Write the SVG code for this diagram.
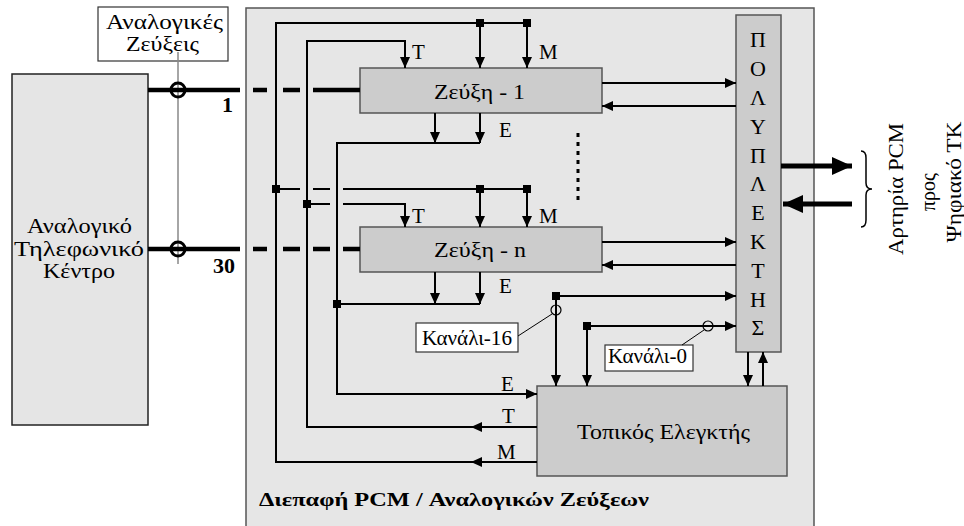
<svg xmlns="http://www.w3.org/2000/svg" width="964" height="526" viewBox="0 0 964 526" font-family="'Liberation Serif', 'Times New Roman', 'DejaVu Serif', serif">
<defs>
<style>
text{font-family:'Liberation Serif','Times New Roman','DejaVu Serif',serif;fill:#000}
.ln{fill:none;stroke:#000;stroke-width:2}
.thk{fill:none;stroke:#000;stroke-width:4.5}
.box{fill:#cccccc;stroke:#555;stroke-width:1.5}
.lbl{fill:#fff;stroke:#333;stroke-width:1.2}
.sq{fill:#000}
</style>
<marker id="ah" markerUnits="userSpaceOnUse" markerWidth="12" markerHeight="10" refX="11" refY="5" orient="auto"><path d="M0,0 L11,5 L0,10 z" fill="#000"/></marker>
<marker id="ahT" markerUnits="userSpaceOnUse" markerWidth="21" markerHeight="18" refX="20" refY="9" orient="auto"><path d="M0,0 L20,9 L0,18 z" fill="#000"/></marker>
</defs>
<rect width="964" height="526" fill="#fff"/>

<g id="pcm-interface">
<rect x="246" y="8" width="568" height="522" fill="#e6e6e6" stroke="#555" stroke-width="1.5"/>
<text x="259" y="506" font-size="18" font-weight="bold" textLength="390" lengthAdjust="spacingAndGlyphs">Διεπαφή PCM / Αναλογικών Ζεύξεων</text>
</g>

<g id="analog-exchange">
<rect x="12" y="74" width="136" height="351" fill="#e5e5e5" stroke="#222" stroke-width="1.5"/>
<text x="27" y="233" font-size="20" textLength="105" lengthAdjust="spacingAndGlyphs">Αναλογικό</text>
<text x="14" y="256" font-size="20" textLength="130" lengthAdjust="spacingAndGlyphs">Τηλεφωνικό</text>
<text x="43" y="278" font-size="20" textLength="72" lengthAdjust="spacingAndGlyphs">Κέντρο</text>
</g>

<g id="analog-pairs-label">
<rect x="98" y="7" width="130" height="54" class="lbl"/>
<text x="106" y="29" font-size="20" textLength="117" lengthAdjust="spacingAndGlyphs">Αναλογικές</text>
<text x="126" y="51" font-size="20" textLength="73" lengthAdjust="spacingAndGlyphs">Ζεύξεις</text>
</g>

<g id="pair-1">
<rect x="360" y="68" width="242" height="45" class="box"/>
<text x="434" y="99" font-size="20" textLength="91" lengthAdjust="spacingAndGlyphs">Ζεύξη - 1</text>
</g>

<g id="pair-n">
<rect x="360" y="227" width="242" height="45" class="box"/>
<text x="434" y="257" font-size="20" textLength="92" lengthAdjust="spacingAndGlyphs">Ζεύξη - n</text>
</g>

<g id="multiplexer">
<rect x="736" y="15" width="45" height="337" class="box"/>
<g font-size="22" text-anchor="middle">
<text x="758" y="47">Π</text>
<text x="758" y="76">Ο</text>
<text x="758" y="105">Λ</text>
<text x="758" y="134">Υ</text>
<text x="758" y="163">Π</text>
<text x="758" y="191">Λ</text>
<text x="758" y="220">Ε</text>
<text x="758" y="249">Κ</text>
<text x="758" y="278">Τ</text>
<text x="758" y="307">Η</text>
<text x="758" y="335">Σ</text>
</g>
</g>

<g id="controller">
<rect x="537" y="386" width="250" height="90" class="box"/>
<text x="577" y="439" font-size="22" textLength="173" lengthAdjust="spacingAndGlyphs">Τοπικός Ελεγκτής</text>
</g>

<g id="channel-16">
<rect x="416" y="323" width="102" height="29" class="lbl"/>
<text x="422" y="345" font-size="20" textLength="90" lengthAdjust="spacingAndGlyphs">Κανάλι-16</text>
</g>

<g id="channel-0">
<rect x="605" y="345" width="88" height="26" class="lbl"/>
<text x="608" y="363" font-size="20" textLength="79" lengthAdjust="spacingAndGlyphs">Κανάλι-0</text>
</g>

<g id="pcm-trunk-label">
<text font-size="20" text-anchor="middle" transform="translate(903,189) rotate(-90)" textLength="132" lengthAdjust="spacingAndGlyphs">Αρτηρία PCM</text>
<text font-size="20" text-anchor="middle" transform="translate(935,192) rotate(-90)">προς</text>
<text font-size="20" text-anchor="middle" transform="translate(961,182) rotate(-90)" textLength="121" lengthAdjust="spacingAndGlyphs">Ψηφιακό ΤΚ</text>
</g>

<g id="connectors">
<line x1="178" y1="52" x2="178" y2="264" stroke="#888" stroke-width="1.5"/>
<path class="thk" d="M148,90 H240 M253,90 H267 M283,90 H300 M313,90 H360"/>
<path class="thk" d="M148,249 H240 M253,249 H267 M283,249 H300 M313,249 H330 M343,249 H360"/>
<circle cx="178" cy="90" r="7" fill="none" stroke="#000" stroke-width="3"/>
<circle cx="178" cy="249" r="7" fill="none" stroke="#000" stroke-width="3"/>

<path class="ln" d="M537,462 H471" marker-end="url(#ah)"/>
<path class="ln" d="M471,462 H276 V23 H527"/>
<path class="ln" d="M480,23 V68" marker-end="url(#ah)"/>
<path class="ln" d="M527,23 V68" marker-end="url(#ah)"/>
<path class="ln" d="M276,189 H300 M313,189 H330 M343,189 H527"/>
<path class="ln" d="M480,189 V227" marker-end="url(#ah)"/>
<path class="ln" d="M527,189 V227" marker-end="url(#ah)"/>

<path class="ln" d="M537,427 H471" marker-end="url(#ah)"/>
<path class="ln" d="M471,427 H307 V41 H405 V68" marker-end="url(#ah)"/>
<path class="ln" d="M307,204 H330 M343,204 H405 V227" marker-end="url(#ah)"/>

<path class="ln" d="M435,113 V143" marker-end="url(#ah)"/>
<path class="ln" d="M480,113 V143" marker-end="url(#ah)"/>
<path class="ln" d="M480,143 H337 V394 H537" marker-end="url(#ah)"/>
<path class="ln" d="M435,272 V304" marker-end="url(#ah)"/>
<path class="ln" d="M480,272 V304" marker-end="url(#ah)"/>
<path class="ln" d="M480,304 H337"/>

<path class="ln" d="M602,83 H736" marker-end="url(#ah)"/>
<path class="ln" d="M736,106 H602" marker-end="url(#ah)"/>
<path class="ln" d="M602,242 H736" marker-end="url(#ah)"/>
<path class="ln" d="M736,265 H602" marker-end="url(#ah)"/>
<path d="M578,133 V203" fill="none" stroke="#000" stroke-width="3" stroke-dasharray="4 5"/>

<path class="ln" d="M556,296 H736" marker-end="url(#ah)"/>
<path class="ln" d="M556,296 V386" marker-end="url(#ah)"/>
<path class="ln" d="M587,326 H736" marker-end="url(#ah)"/>
<path class="ln" d="M587,326 V386" marker-end="url(#ah)"/>
<circle cx="556" cy="310" r="5" fill="none" stroke="#000" stroke-width="1.2"/>
<circle cx="708" cy="326" r="5" fill="none" stroke="#000" stroke-width="1.2"/>
<line x1="518" y1="336" x2="552" y2="314" stroke="#000" stroke-width="1"/>
<line x1="682" y1="345" x2="704" y2="330" stroke="#000" stroke-width="1"/>

<path class="ln" d="M748,352 V386" marker-end="url(#ah)"/>
<path class="ln" d="M763,386 V352" marker-end="url(#ah)"/>

<path d="M781,166 H852" fill="none" stroke="#000" stroke-width="5" marker-end="url(#ahT)"/>
<path d="M852,204 H783" fill="none" stroke="#000" stroke-width="5" marker-end="url(#ahT)"/>
<path d="M861,151 Q866,151 866,158 L866,183 Q866,189 872,189 Q866,189 866,195 L866,220 Q866,227 861,227" fill="none" stroke="#000" stroke-width="1.5"/>

<rect class="sq" x="476" y="19" width="8" height="8"/>
<rect class="sq" x="523" y="19" width="8" height="8"/>
<rect class="sq" x="272" y="185" width="8" height="8"/>
<rect class="sq" x="476" y="185" width="8" height="8"/>
<rect class="sq" x="523" y="185" width="8" height="8"/>
<rect class="sq" x="303" y="200" width="8" height="8"/>
<rect class="sq" x="333" y="300" width="8" height="8"/>
<rect class="sq" x="552" y="292" width="8" height="8"/>
<rect class="sq" x="583" y="322" width="8" height="8"/>
</g>

<g id="signal-labels" font-size="21">
<text x="222" y="112" font-size="22" font-weight="bold">1</text>
<text x="213" y="273" font-size="22" font-weight="bold">30</text>
<text x="412" y="59">T</text>
<text x="539" y="59">M</text>
<text x="499" y="137">E</text>
<text x="412" y="223">T</text>
<text x="539" y="223">M</text>
<text x="499" y="293">E</text>
<text x="501" y="391">E</text>
<text x="502" y="423">T</text>
<text x="497" y="459">M</text>
</g>
</svg>
